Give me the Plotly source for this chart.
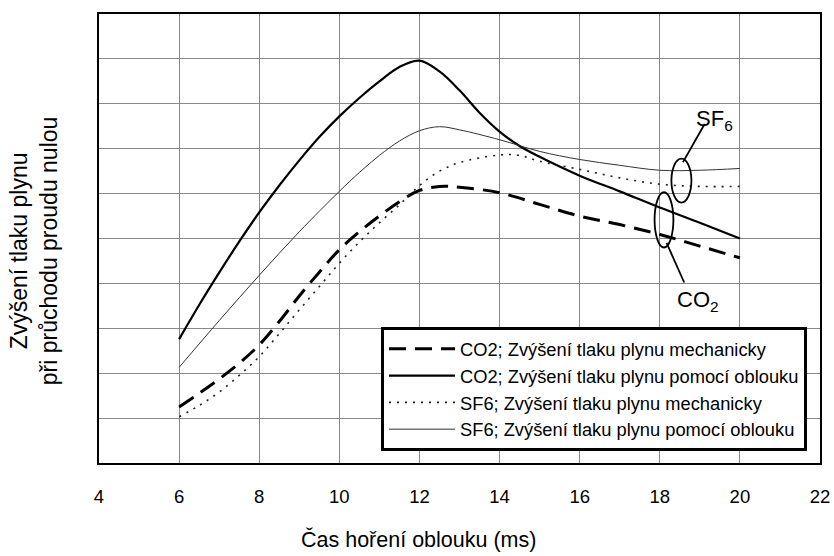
import plotly.graph_objects as go

# Arc burning time (ms) and relative gas pressure rise at current zero
t_co2_mech = [6, 6.5, 7, 7.5, 8, 8.5, 9, 9.5, 10, 10.5, 11, 11.5, 12, 12.5, 13, 14, 15, 16, 17, 18, 19, 20]
p_co2_mech = [1.25, 1.55, 1.87, 2.22, 2.63, 3.15, 3.72, 4.25, 4.75, 5.15, 5.5, 5.82, 6.07, 6.16, 6.14, 6.02, 5.76, 5.5, 5.31, 5.09, 4.83, 4.57]

t_co2_arc = [6, 6.5, 7, 7.5, 8, 8.5, 9, 9.5, 10, 10.5, 11, 11.5, 12, 12.5, 13, 13.5, 14, 14.5, 15, 16, 17, 18, 19, 20]
p_co2_arc = [2.76, 3.52, 4.24, 4.93, 5.58, 6.18, 6.74, 7.26, 7.72, 8.13, 8.5, 8.82, 8.96, 8.72, 8.3, 7.8, 7.38, 7.06, 6.82, 6.4, 6.05, 5.69, 5.35, 5.0]

t_sf6_mech = [6, 6.5, 7, 7.5, 8, 8.5, 9, 9.5, 10, 10.5, 11, 11.5, 12, 12.5, 13, 14, 14.5, 15, 16, 17, 18, 19, 20]
p_sf6_mech = [1.03, 1.28, 1.58, 1.95, 2.37, 2.88, 3.41, 3.93, 4.45, 4.92, 5.35, 5.75, 6.18, 6.5, 6.69, 6.86, 6.85, 6.72, 6.54, 6.35, 6.21, 6.16, 6.16]

t_sf6_arc = [6, 7, 8, 9, 10, 10.5, 11, 11.5, 12, 12.5, 13, 14, 15, 16, 17, 18, 19, 20]
p_sf6_arc = [2.13, 3.17, 4.18, 5.15, 6.05, 6.47, 6.85, 7.17, 7.4, 7.49, 7.42, 7.2, 6.94, 6.76, 6.63, 6.52, 6.52, 6.56]

legend_names = [
    "CO2; Zvýšení tlaku plynu mechanicky",
    "CO2; Zvýšení tlaku plynu pomocí oblouku",
    "SF6; Zvýšení tlaku plynu mechanicky",
    "SF6; Zvýšení tlaku plynu pomocí oblouku",
]

x_ticks = [4, 6, 8, 10, 12, 14, 16, 18, 20, 22]

FONT = "Liberation Sans, Arial, sans-serif"

fig = go.Figure()
fig.add_trace(go.Scatter(x=t_co2_mech, y=p_co2_mech, mode="lines", name=legend_names[0],
                         legendgroup="a", line=dict(color="black", width=3, dash="17px,9px", shape="spline")))
fig.add_trace(go.Scatter(x=t_co2_arc, y=p_co2_arc, mode="lines", name=legend_names[1],
                         legendgroup="b", line=dict(color="black", width=2.2, shape="spline")))
fig.add_trace(go.Scatter(x=t_sf6_mech, y=p_sf6_mech, mode="lines", name=legend_names[2],
                         legendgroup="c", line=dict(color="#222", width=1.6, dash="2px,6px", shape="spline")))
fig.add_trace(go.Scatter(x=t_sf6_arc, y=p_sf6_arc, mode="lines", name=legend_names[3],
                         legendgroup="d", line=dict(color="#333", width=1, shape="spline")))

# Rings grouping the curve pairs, with leader lines to their labels
ring = dict(color="black", width=1.8)
fig.add_shape(type="circle", xref="x", yref="y", x0=18.29, x1=18.79, y0=5.8, y1=6.78, line=ring)
fig.add_shape(type="line", xref="x", yref="y", x0=18.58, y0=6.7, x1=19.12, y1=7.55, line=ring)
fig.add_shape(type="circle", xref="x", yref="y", x0=17.87, x1=18.34, y0=4.8, y1=6.03, line=ring)
fig.add_shape(type="line", xref="x", yref="y", x0=18.17, y0=4.9, x1=18.61, y1=4.02, line=ring)

fig.add_annotation(x=18.85, y=7.64, xref="x", yref="y", text="SF<sub>6</sub>", showarrow=False,
                   xanchor="left", font=dict(family=FONT, size=22, color="black"))
fig.add_annotation(x=18.38, y=3.6, xref="x", yref="y", text="CO<sub>2</sub>", showarrow=False,
                   xanchor="left", font=dict(family=FONT, size=22, color="black"))

# Axis titles
fig.add_annotation(x=-0.09, y=0.472, xref="paper", yref="paper", textangle=-90,
                   xanchor="center", yanchor="middle",
                   text="Zvýšení tlaku plynu<br>při průchodu proudu nulou", showarrow=False,
                   font=dict(family=FONT, size=23, color="black"))
fig.add_annotation(x=0.4425, y=-0.171, xref="paper", yref="paper",
                   xanchor="center", yanchor="middle",
                   text="Čas hoření oblouku (ms)", showarrow=False,
                   font=dict(family=FONT, size=21.5, color="black"))

fig.update_layout(
    width=834, height=556,
    margin=dict(l=99, r=14, t=14, b=93),
    paper_bgcolor="white", plot_bgcolor="white",
    font=dict(family=FONT, size=18, color="black"),
    showlegend=True,
    legend=dict(x=0.982, y=0.302, xanchor="right", yanchor="top",
                bgcolor="white", bordercolor="black", borderwidth=3,
                font=dict(family=FONT, size=18.3, color="black"),
                itemwidth=66, tracegroupgap=5, traceorder="normal"),
    xaxis=dict(range=[4, 22], tickvals=x_ticks, ticktext=[str(v) for v in x_ticks],
               showgrid=True, gridcolor="#888", gridwidth=1, zeroline=False,
               showline=True, linecolor="black", linewidth=1.5, mirror=True,
               ticks="", ticklabelstandoff=16, tickfont=dict(size=18.5),
               ticklabeloverflow="allow", automargin=False),
    yaxis=dict(range=[0, 10], dtick=1, showticklabels=False,
               showgrid=True, gridcolor="#888", gridwidth=1, zeroline=False,
               showline=True, linecolor="black", linewidth=1.5, mirror=True, ticks="",
               automargin=False),
)

fig.write_html("out.html")
